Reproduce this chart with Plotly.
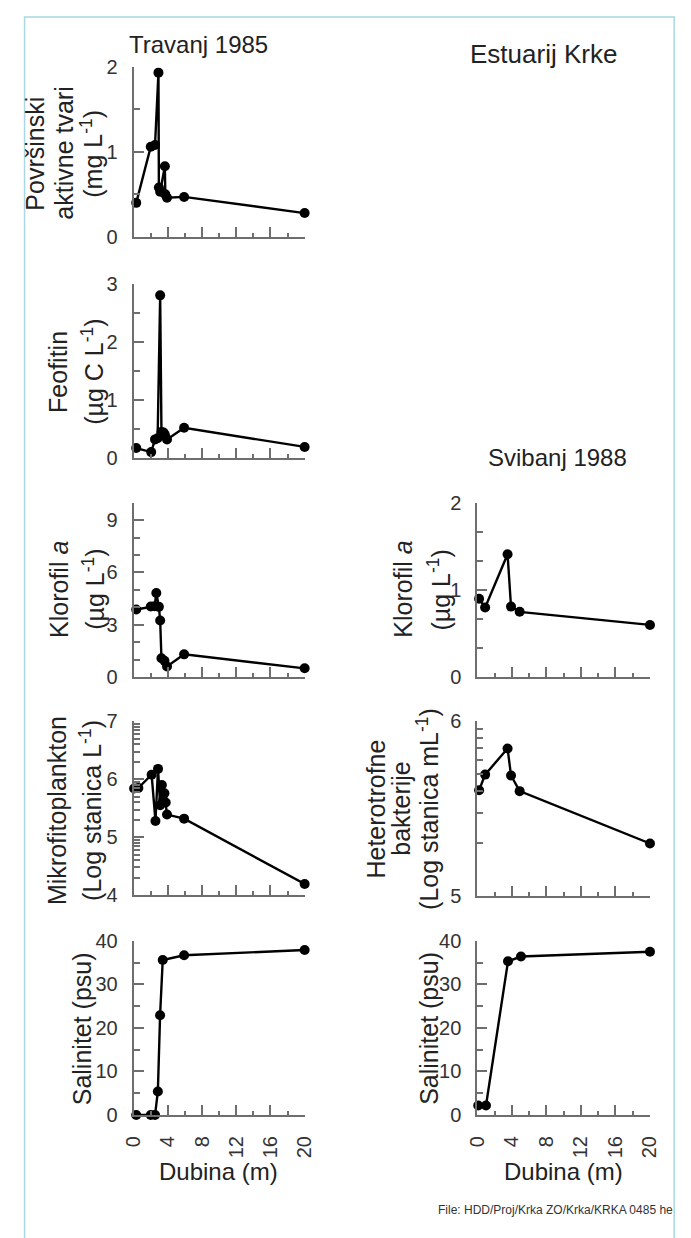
import numpy as np
import plotly.graph_objects as go

W, H = 691, 1238

# ---------------- data: Travanj 1985 ----------------
pat_depth = [0.3, 2.0, 2.5, 2.9, 2.95, 3.1, 3.65, 3.7, 3.9, 5.9, 20.0]
pat_val = [0.40, 1.06, 1.08, 1.93, 0.58, 0.53, 0.83, 0.50, 0.46, 0.47, 0.28]

feo_depth = [0.3, 2.05, 2.5, 2.8, 3.1, 3.25, 3.5, 3.65, 3.9, 5.9, 20.0]
feo_val = [0.17, 0.10, 0.32, 0.34, 2.81, 0.45, 0.44, 0.40, 0.32, 0.52, 0.19]

klo85_depth = [0.3, 2.0, 2.45, 2.65, 2.95, 3.1, 3.25, 3.6, 3.9, 5.9, 20.0]
klo85_val = [3.88, 4.05, 4.07, 4.82, 4.03, 3.25, 1.09, 0.94, 0.62, 1.31, 0.51]

mik_depth = [0.05, 0.55, 2.1, 2.55, 2.85, 3.1, 3.3, 3.45, 3.6, 3.75, 3.9, 5.9, 20.0]
mik_val = [5.84, 5.85, 6.08, 5.28, 6.18, 5.55, 5.90, 5.64, 5.76, 5.60, 5.39, 5.32, 4.19]

sal85_depth = [0.3, 2.0, 2.5, 2.83, 3.09, 3.4, 5.9, 20.0]
sal85_val = [0.0, 0.0, 0.0, 5.4, 22.9, 35.6, 36.7, 37.9]

# ---------------- data: Svibanj 1988 ----------------
klo88_depth = [0.2, 0.9, 3.5, 3.9, 4.9, 20.0]
klo88_val = [0.90, 0.80, 1.41, 0.81, 0.75, 0.60]

bak_depth = [0.2, 0.9, 3.5, 3.9, 4.9, 20.0]
bak_val = [5.605, 5.695, 5.845, 5.69, 5.60, 5.30]

sal88_depth = [0.1, 1.0, 3.55, 5.05, 20.0]
sal88_val = [2.2, 2.2, 35.3, 36.4, 37.5]

x_ticks = [0, 4, 8, 12, 16, 20]
x_minor = [2, 6, 10, 14, 18]

# ---------------- layout helpers (pixel -> paper) ----------------
def px(x):
    return x / W


def py(y):
    return 1 - y / H


XL = [px(126.7), px(303.3)]
XR = [px(481.7), px(660.0)]

AXIS_COL = "#6e6e6e"
FAM = "Liberation Sans, Arial, sans-serif"
TICK_FONT = dict(family=FAM, size=20, color="#333333")

log_minor = lambda base: [base + np.log10(k) for k in range(2, 10)]

panels = [
    # (x domain, y pixel top, y pixel bottom, depth, values, yrange, ytickvals, minor tickvals, show x labels)
    (XL, 56.7, 230.0, pat_depth, pat_val, [0, 2], [0, 1, 2], [0.5, 1.5], False),
    (XL, 278.3, 455.0, feo_depth, feo_val, [0, 3], [0, 1, 2, 3], [0.5, 1.5, 2.5], False),
    (XL, 500.5, 678.3, klo85_depth, klo85_val, [0, 10], [0, 3, 6, 9], [1, 2, 4, 5, 7, 8], False),
    (XL, 723.3, 900.0, mik_depth, mik_val, [4, 7], [4, 5, 6, 7], log_minor(4) + log_minor(5) + log_minor(6), False),
    (XL, 946.7, 1124.0, sal85_depth, sal85_val, [0, 40], [0, 10, 20, 30, 40], [5, 15, 25, 35], True),
    (XR, 500.7, 678.3, klo88_depth, klo88_val, [0, 2], [0, 1, 2], [1 / 3, 2 / 3, 4 / 3, 5 / 3], False),
    (XR, 723.3, 900.7, bak_depth, bak_val, [5, 6], [5, 6], log_minor(5), False),
    (XR, 946.7, 1124.0, sal88_depth, sal88_val, [0, 40], [0, 10, 20, 30, 40], [5, 15, 25, 35], True),
]

fig = go.Figure()
layout = dict(
    width=W,
    height=H,
    margin=dict(l=0, r=0, t=0, b=0),
    paper_bgcolor="white",
    plot_bgcolor="white",
    showlegend=False,
)

for i, (xd, ytop, ybot, dep, val, yr, ytv, ymin, showx) in enumerate(panels, start=1):
    xa = "x" if i == 1 else f"x{i}"
    ya = "y" if i == 1 else f"y{i}"
    fig.add_trace(
        go.Scatter(
            x=dep, y=val, xaxis=xa, yaxis=ya,
            mode="lines+markers",
            line=dict(color="black", width=2.4),
            marker=dict(color="black", size=10),
            cliponaxis=False,
            hoverinfo="skip",
        )
    )
    xkey = "xaxis" if i == 1 else f"xaxis{i}"
    ykey = "yaxis" if i == 1 else f"yaxis{i}"
    layout[xkey] = dict(
        domain=xd, anchor=ya, range=[0, 20],
        tickmode="array", tickvals=x_ticks,
        ticks="inside", ticklen=10, tickwidth=1.5, tickcolor=AXIS_COL,
        showline=True, linecolor=AXIS_COL, linewidth=2,
        showgrid=False, zeroline=False,
        showticklabels=showx, tickangle=-90, tickfont=TICK_FONT, ticklabelstandoff=11,
        minor=dict(tickmode="array", tickvals=x_minor, ticks="inside", ticklen=4,
                   tickwidth=1.5, tickcolor=AXIS_COL, showgrid=False),
        fixedrange=True,
    )
    layout[ykey] = dict(
        domain=[py(ybot), py(ytop)], anchor=xa, range=yr,
        tickmode="array", tickvals=ytv,
        ticks="inside", ticklen=10, tickwidth=1.5, tickcolor=AXIS_COL,
        showline=True, linecolor=AXIS_COL, linewidth=2,
        showgrid=False, zeroline=False,
        tickfont=TICK_FONT, ticklabelstandoff=10,
        minor=dict(tickmode="array", tickvals=ymin, ticks="inside", ticklen=6,
                   tickwidth=1.5, tickcolor=AXIS_COL, showgrid=False),
        fixedrange=True,
    )

fig.update_layout(**layout)


def ann(text, x, y, size=24, angle=0, xanchor="center", yanchor="middle", color="#222222"):
    fig.add_annotation(
        text=text, x=px(x), y=py(y), xref="paper", yref="paper",
        showarrow=False, textangle=angle, xanchor=xanchor, yanchor=yanchor,
        font=dict(family=FAM, size=size, color=color),
    )

ann("Travanj 1985", 194, 34)
ann("Estuarij Krke", 550, 44, size=26)
ann("Svibanj 1988", 564, 455)

# y-axis titles (rotated, one annotation per line)
ann("Površinski", 25, 145, size=25, angle=-90)
ann("aktivne tvari", 55, 145, size=25, angle=-90)
ann("(mg L<sup>-1</sup>)", 84, 145, size=25, angle=-90)

ann("Feofitin", 49, 367, size=25, angle=-90)
ann("(µg C L<sup>-1</sup>)", 85, 367, size=25, angle=-90)

ann("Klorofil <i>a</i>", 49, 589, size=25, angle=-90)
ann("(µg L<sup>-1</sup>)", 85, 589, size=25, angle=-90)

ann("Mikrofitoplankton", 47, 814, size=25, angle=-90)
ann("(Log stanica L<sup>-1</sup>)", 82, 814, size=25, angle=-90)

ann("Salinitet (psu)", 73, 1036, size=25, angle=-90)

ann("Klorofil <i>a</i>", 404, 589, size=25, angle=-90)
ann("(µg L<sup>-1</sup>)", 442, 589, size=25, angle=-90)

ann("Heterotrofne", 377, 812, size=25, angle=-90)
ann("bakterije", 402, 812, size=25, angle=-90)
ann("(Log stanica mL<sup>-1</sup>)", 430, 812, size=25, angle=-90)

ann("Salinitet (psu)", 431, 1036, size=25, angle=-90)

ann("Dubina (m)", 214, 1181)
ann("Dubina (m)", 571, 1181)

ann("File: HDD/Proj/Krka ZO/Krka/KRKA 0485 he", 439, 1221, size=12, xanchor="left", color="#333333")

# light blue frame
fig.add_shape(
    type="rect", xref="paper", yref="paper",
    x0=px(14), x1=px(685), y0=py(1260), y1=py(6),
    line=dict(color="#a9d8e2", width=1.5), fillcolor="rgba(0,0,0,0)", layer="below",
)

fig.write_html("out.html")
